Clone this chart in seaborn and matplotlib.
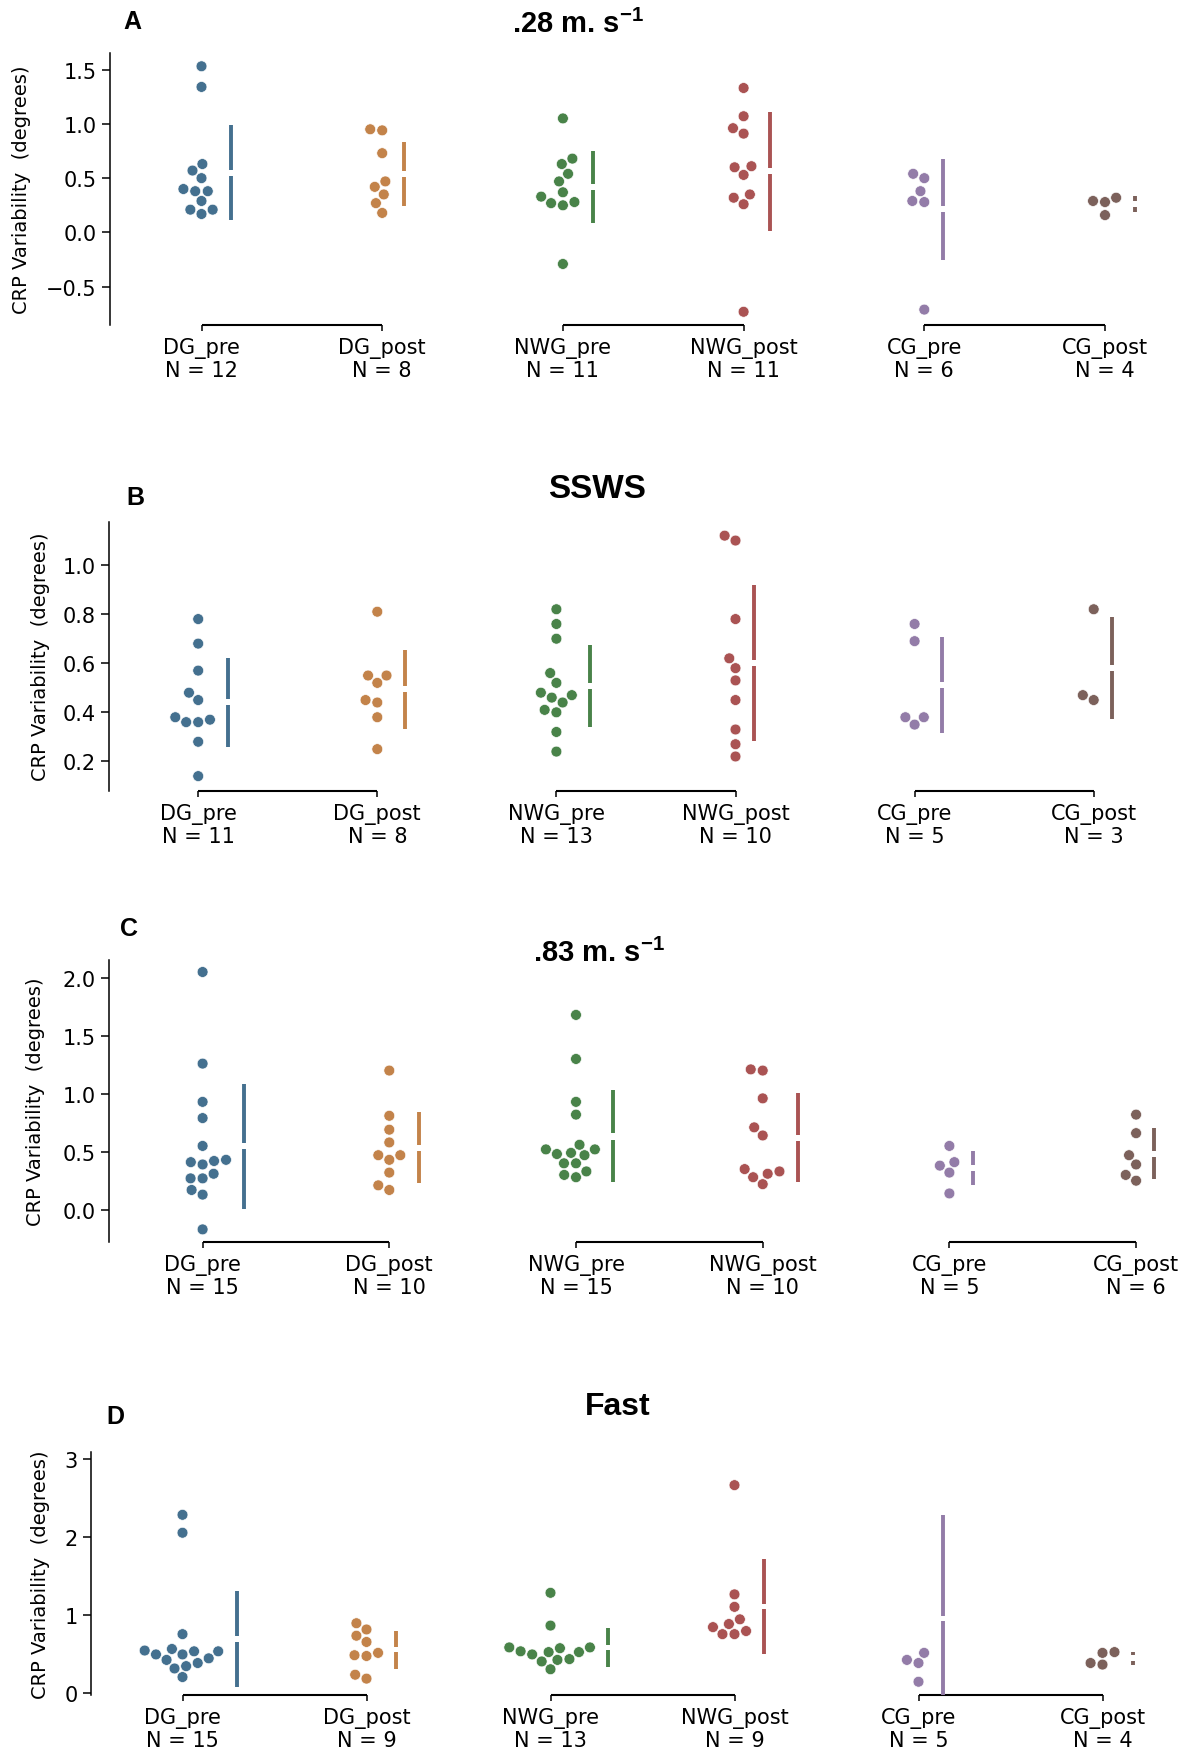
import numpy as np
import pandas as pd
import matplotlib
matplotlib.use("Agg")
import matplotlib.pyplot as plt
import seaborn as sns

groups = ["DG_pre", "DG_post", "NWG_pre", "NWG_post", "CG_pre", "CG_post"]

# A: .28 m/s
a_dg_pre = [1.53, 1.34, 0.63, 0.57, 0.50, 0.40, 0.38, 0.38, 0.29, 0.21, 0.21, 0.17]
a_dg_post = [0.95, 0.94, 0.73, 0.47, 0.42, 0.35, 0.27, 0.18]
a_nwg_pre = [1.05, 0.68, 0.63, 0.54, 0.47, 0.37, 0.33, 0.28, 0.27, 0.25, -0.29]
a_nwg_post = [1.33, 1.07, 0.96, 0.91, 0.61, 0.60, 0.53, 0.35, 0.32, 0.26, -0.73]
a_cg_pre = [0.54, 0.50, 0.38, 0.29, 0.28, -0.71]
a_cg_post = [0.32, 0.29, 0.28, 0.16]

# B: SSWS
b_dg_pre = [0.78, 0.68, 0.57, 0.48, 0.45, 0.38, 0.37, 0.36, 0.36, 0.28, 0.14]
b_dg_post = [0.81, 0.55, 0.55, 0.52, 0.45, 0.44, 0.38, 0.25]
b_nwg_pre = [0.82, 0.76, 0.70, 0.56, 0.52, 0.48, 0.47, 0.46, 0.44, 0.41, 0.40, 0.32, 0.24]
b_nwg_post = [1.12, 1.10, 0.78, 0.62, 0.58, 0.53, 0.45, 0.33, 0.27, 0.22]
b_cg_pre = [0.76, 0.69, 0.38, 0.38, 0.35]
b_cg_post = [0.82, 0.47, 0.45]

# C: .83 m/s
c_dg_pre = [2.05, 1.26, 0.93, 0.79, 0.55, 0.43, 0.42, 0.41, 0.39, 0.31, 0.27, 0.27, 0.17, 0.13, -0.17]
c_dg_post = [1.20, 0.81, 0.69, 0.58, 0.47, 0.47, 0.43, 0.32, 0.21, 0.17]
c_nwg_pre = [1.68, 1.30, 0.93, 0.82, 0.56, 0.52, 0.52, 0.49, 0.48, 0.47, 0.40, 0.40, 0.33, 0.30, 0.28]
c_nwg_post = [1.21, 1.20, 0.96, 0.71, 0.64, 0.35, 0.33, 0.31, 0.28, 0.22]
c_cg_pre = [0.55, 0.41, 0.38, 0.32, 0.14]
c_cg_post = [0.82, 0.66, 0.47, 0.39, 0.30, 0.25]

# D: Fast
d_dg_pre = [2.28, 2.05, 0.75, 0.56, 0.54, 0.53, 0.53, 0.49, 0.49, 0.44, 0.42, 0.38, 0.34, 0.31, 0.20]
d_dg_post = [0.89, 0.81, 0.73, 0.65, 0.51, 0.48, 0.47, 0.23, 0.18]
d_nwg_pre = [1.28, 0.86, 0.58, 0.58, 0.57, 0.53, 0.52, 0.52, 0.49, 0.43, 0.42, 0.40, 0.30]
d_nwg_post = [2.66, 1.26, 1.10, 0.94, 0.88, 0.84, 0.79, 0.75, 0.75]
d_cg_pre = [3.31, 0.51, 0.42, 0.38, 0.14]
d_cg_post = [0.52, 0.51, 0.38, 0.36]

W, H, DPI = 1198, 1756, 100

sns.set_theme(style="ticks")
plt.rcParams["font.family"] = ["DejaVu Sans"]
plt.rcParams["mathtext.fontset"] = "custom"
plt.rcParams["mathtext.rm"] = "Liberation Sans"
plt.rcParams["mathtext.bf"] = "Liberation Sans:bold"
plt.rcParams["axes.linewidth"] = 1.1
for key in ("text.color", "axes.labelcolor", "xtick.color", "ytick.color",
            "xtick.labelcolor", "ytick.labelcolor", "axes.edgecolor"):
    plt.rcParams[key] = "black"

palette = sns.color_palette("tab10", 6, desat=0.5)

panels = [
    dict(letter="A", letter_xy=(132, 22), title=r".28 m. s$^{\mathbf{-1}}$", title_xy=(578, 24), title_size=21,
         values=[a_dg_pre, a_dg_post, a_nwg_pre, a_nwg_post, a_cg_pre, a_cg_post],
         ylim=(-0.85, 1.655), yticks=[-0.5, 0.0, 0.5, 1.0, 1.5],
         spine_x=109.7, cat0=201.5, step=180.7, top=53.7, bottom=325.8, ylabel_x=20),
    dict(letter="B", letter_xy=(135, 498), title="SSWS", title_xy=(597, 490), title_size=24,
         values=[b_dg_pre, b_dg_post, b_nwg_pre, b_nwg_post, b_cg_pre, b_cg_post],
         ylim=(0.081, 1.176), yticks=[0.2, 0.4, 0.6, 0.8, 1.0],
         spine_x=108.6, cat0=198.2, step=179.1, top=522.9, bottom=791.6, ylabel_x=39),
    dict(letter="C", letter_xy=(129, 929), title=r".83 m. s$^{\mathbf{-1}}$", title_xy=(599, 953), title_size=21,
         values=[c_dg_pre, c_dg_post, c_nwg_pre, c_nwg_post, c_cg_pre, c_cg_post],
         ylim=(-0.277, 2.157), yticks=[0.0, 0.5, 1.0, 1.5, 2.0],
         spine_x=108.6, cat0=202.6, step=186.7, top=960.6, bottom=1242.8, ylabel_x=34),
    dict(letter="D", letter_xy=(115, 1417), title="Fast", title_xy=(618, 1407), title_size=23,
         values=[d_dg_pre, d_dg_post, d_nwg_pre, d_nwg_post, d_cg_pre, d_cg_post],
         ylim=(-0.03, 3.085), yticks=[0, 1, 2, 3],
         spine_x=90.7, cat0=182.5, step=184.0, top=1453.0, bottom=1696.0, ylabel_x=39),
]

fig = plt.figure(figsize=(W / DPI, H / DPI), dpi=DPI)
title_font = ["Liberation Sans", "DejaVu Sans"]
x_right = 5.45

axes = []
for p in panels:
    x_left = (p["spine_x"] - p["cat0"]) / p["step"]
    rect = [p["spine_x"] / W, 1 - p["bottom"] / H,
            (x_right - x_left) * p["step"] / W, (p["bottom"] - p["top"]) / H]
    ax = fig.add_axes(rect)
    df = pd.DataFrame({
        "group": np.repeat(groups, [len(v) for v in p["values"]]),
        "value": np.concatenate(p["values"]),
    })
    sns.swarmplot(data=df, x="group", y="value", hue="group", order=groups,
                  hue_order=groups, palette=palette, size=7.8,
                  edgecolor="white", linewidth=0.45, legend=False, ax=ax)
    ax.set_xlim(x_left, x_right)
    ax.set_ylim(*p["ylim"])
    ax.set_yticks(p["yticks"])
    ax.set_xticks(range(len(groups)))
    ax.set_xticklabels([f"{g}\nN = {len(v)}" for g, v in zip(groups, p["values"])],
                       linespacing=1.1)
    ax.tick_params(axis="x", labelsize=15, length=4, width=1.1, pad=5, color="black")
    ax.tick_params(axis="y", labelsize=15, length=6, width=1.1, color="black")
    ax.set_xlabel("")
    ax.set_ylabel("CRP Variability  (degrees)", fontsize=14)
    axw = (x_right - x_left) * p["step"]
    ax.yaxis.set_label_coords((p["ylabel_x"] + 11 - p["spine_x"]) / axw, 0.5)
    for side in ("top", "right", "bottom"):
        ax.spines[side].set_visible(False)
    # bracket-style baseline joining each pre/post pair
    for j in (0, 2, 4):
        ax.plot([j, j + 1], [0, 0], transform=ax.get_xaxis_transform(),
                color="black", lw=1.5, clip_on=False, solid_capstyle="butt")
    fig.text(p["letter_xy"][0] / W, 1 - p["letter_xy"][1] / H, p["letter"],
             fontsize=18, fontweight="bold", family=title_font, ha="center", va="center")
    fig.text(p["title_xy"][0] / W, 1 - p["title_xy"][1] / H, p["title"],
             fontsize=p["title_size"], fontweight="bold", family=title_font,
             ha="center", va="center")
    axes.append(ax)

# swarm layout is resolved at draw time; place the mean +/- SD bars beside each swarm
fig.canvas.draw()
for ax, p in zip(axes, panels):
    yr = p["ylim"][1] - p["ylim"][0]
    gap = 0.011 * yr
    shift = 18.4 / p["step"]
    for i, vals in enumerate(p["values"]):
        xs = None
        for coll in ax.collections:
            off = np.asarray(coll.get_offsets())
            if len(off) and abs(np.median(off[:, 0]) - i) < 0.45:
                xs = off[:, 0]
                break
        xpos = (xs.max() if xs is not None else i) + shift
        m = np.mean(vals)
        sd = np.std(vals, ddof=1)
        kw = dict(color=palette[i], lw=2.8, solid_capstyle="butt")
        ax.plot([xpos, xpos], [m - sd, m - gap], **kw)
        ax.plot([xpos, xpos], [m + gap, m + sd], **kw)

fig.savefig("out.png", dpi=DPI)
